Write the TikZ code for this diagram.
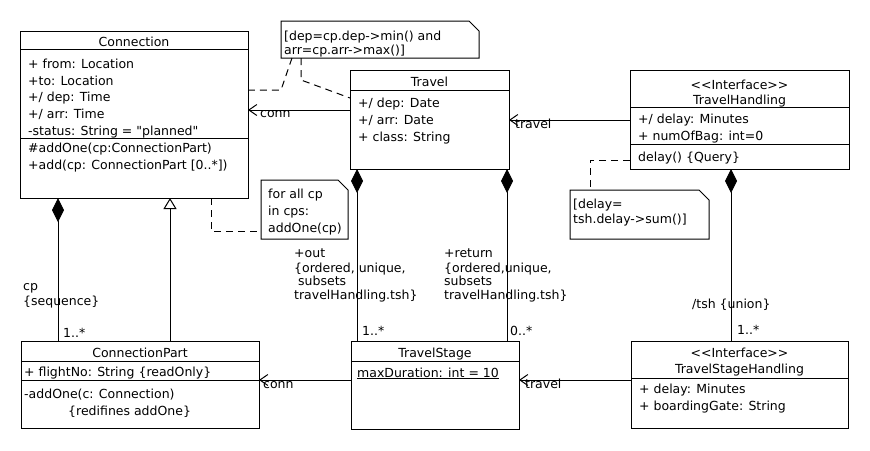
\documentclass[tikz,border=0pt]{standalone}
\usepackage{fontspec}
\setmainfont{DejaVu Sans}
\usetikzlibrary{arrows.meta,calc}
\newcommand{\stereo}[1]{\textless\kern0pt\textless #1\textgreater\kern0pt\textgreater}
\begin{document}
\begin{tikzpicture}[x=1pt,y=-1pt,
  box/.style={draw, line width=1pt, anchor=north west, inner sep=0pt, outer sep=0pt},
  notebox/.style={inner sep=0pt, outer sep=0pt, anchor=north west},
  txt/.style={font=\fontsize{12.5}{15}\selectfont, inner sep=0pt, anchor=base west},
  ttl/.style={txt, anchor=base},
  nav/.style={line width=1pt, -{Straight Barb[length=8pt,width=11pt]}},
  comp/.style={line width=1pt, {Diamond[length=24pt,width=12pt]}-},
  gen/.style={line width=1pt, -{Triangle[open,length=11pt,width=13pt,fill=white]}},
  dsh/.style={line width=1pt, dash pattern=on 7pt off 5pt},
  sep/.style={line width=1pt}]
\fill[white] (0,0) rectangle (870,450);
\useasboundingbox (0,0) rectangle (870,450);

% ---------- class boxes ----------
\node[box, minimum width=228pt, minimum height=167pt] (conn) at (20,31) {};
\node[box, minimum width=159pt, minimum height=99pt] (trav) at (350,70) {};
\node[box, minimum width=219pt, minimum height=99pt] (th) at (630,70) {};
\node[box, minimum width=238pt, minimum height=87pt] (cpart) at (21,341) {};
\node[box, minimum width=168pt, minimum height=88pt] (ts) at (351,341) {};
\node[box, minimum width=217pt, minimum height=87pt] (tsh) at (631,341) {};

% dividers
\draw[sep] (conn.west |- 0,49) -- (conn.east |- 0,49);
\draw[sep] (conn.west |- 0,138) -- (conn.east |- 0,138);
\draw[sep] (trav.west |- 0,90) -- (trav.east |- 0,90);
\draw[sep] (th.west |- 0,107) -- (th.east |- 0,107);
\draw[sep] (th.west |- 0,144) -- (th.east |- 0,144);
\draw[sep] (cpart.west |- 0,361) -- (cpart.east |- 0,361);
\draw[sep] (cpart.west |- 0,380) -- (cpart.east |- 0,380);
\draw[sep] (ts.west |- 0,361) -- (ts.east |- 0,361);
\draw[sep] (tsh.west |- 0,378) -- (tsh.east |- 0,378);

% ---------- Connection text ----------
\node[ttl] (connT) at (134,46.5) {Connection};
\node[txt] (c1) at (28,68) {+ from: Location};
\node[txt] (c2) at (28,85) {+to: Location};
\node[txt] (c3) at (28,101.5) {+/ dep: Time};
\node[txt] (c4) at (28,118) {+/ arr: Time};
\node[txt] (c5) at (28,135) {-status: String = \textquotedbl planned\textquotedbl};
\node[txt] (c6) at (28,152.5) {\#addOne(cp:ConnectionPart)};
\node[txt] (c7) at (28,169.5) {+add(cp: ConnectionPart {[}0..*{]})};

% ---------- Travel text ----------
\node[ttl] (travT) at (429.5,86) {Travel};
\node[txt] (t1) at (358,107.5) {+/ dep: Date};
\node[txt] (t2) at (358,124.5) {+/ arr: Date};
\node[txt] (t3) at (358,141.5) {+ class: String};

% ---------- TravelHandling text ----------
\node[ttl] (thS) at (739.5,89) {\stereo{Interface}};
\node[ttl] (thT) at (739.5,104) {TravelHandling};
\node[txt] (h1) at (638,123.5) {+/ delay: Minutes};
\node[txt] (h2) at (638,140) {+ numOfBag: int=0};
\node[txt] (h3) at (638,161.5) {delay() \{Query\}};

% ---------- ConnectionPart text ----------
\node[ttl] (cpT) at (140,357) {ConnectionPart};
\node[txt] (p1) at (24,376.5) {+ flightNo: String \{readOnly\}};
\node[txt] (p2) at (24,398) {-addOne(c: Connection)};
\node[txt] (p3) at (68,415) {\{redifines addOne\}};

% ---------- TravelStage text ----------
\node[ttl] (tsT) at (435,357) {TravelStage};
\node[txt] (s1) at (357,377) {\underline{maxDuration: int = 10}};

% ---------- TravelStageHandling text ----------
\node[ttl] (tshS) at (739.5,357) {\stereo{Interface}};
\node[ttl] (tshT) at (739.5,373) {TravelStageHandling};
\node[txt] (g1) at (639,393) {+ delay: Minutes};
\node[txt] (g2) at (639,410) {+ boardingGate: String};

% ---------- notes ----------
\node[notebox, minimum width=198pt, minimum height=37pt] (n1) at (281,21) {};
\node[notebox, minimum width=139pt, minimum height=49pt] (n2) at (570,190) {};
\node[notebox, minimum width=87pt, minimum height=59pt] (n3) at (261,180) {};
\foreach \n in {n1,n2,n3}{
  \draw[line width=1pt] (\n.north west) -- ([xshift=-10pt]\n.north east) -- ([yshift=-10pt]\n.north east) -- (\n.south east) -- (\n.south west) -- cycle;
}
\node[txt] (n1a) at (284,40) {{[}dep=cp.dep-\textgreater min() and};
\node[txt] (n1b) at (284,54) {arr=cp.arr-\textgreater max(){]}};
\node[txt] (n2a) at (573,208) {{[}delay=};
\node[txt] (n2b) at (573,223) {tsh.delay-\textgreater sum(){]}};
\node[txt] (n3a) at (268,198) {for all cp};
\node[txt] (n3b) at (268,215) {in cps:};
\node[txt] (n3c) at (268,232) {addOne(cp)};

% ---------- connectors ----------
\draw[nav] (trav.west |- 0,110) -- (conn.east |- 0,110);
\node[txt] (lconn1) at (260,117.5) {conn};
\draw[nav] (th.west |- 0,120) -- (trav.east |- 0,120);
\node[txt] (ltrav1) at (515,128) {travel};
\draw[nav] (ts.west |- 0,380) -- (cpart.east |- 0,380);
\node[txt] (lconn2) at (263,388) {conn};
\draw[nav] (tsh.west |- 0,380) -- (ts.east |- 0,380);
\node[txt] (ltrav2) at (525,388) {travel};

\draw[dsh] (n1.south west -| 292,0) -- (281,90) -- (conn.east |- 0,90);
\draw[dsh] (n1.south west -| 301,0) -- (301,80) -- (trav.west |- 0,98);
\draw[dsh] (th.west |- 0,160) -- (590,160) -- (n2.north west -| 590,0);
\draw[dsh] (conn.south west -| 211,0) -- (211,231) -- (n3.west |- 0,231);

\draw[comp] (conn.south west -| 58,0) -- (cpart.north west -| 58,0);
\draw[gen] (cpart.north west -| 170,0) -- (conn.south west -| 170,0);
\draw[comp] (trav.south west -| 357,0) -- (ts.north west -| 357,0);
\draw[comp] (trav.south west -| 507,0) -- (ts.north west -| 507,0);
\draw[comp] (th.south west -| 731,0) -- (tsh.north west -| 731,0);

% ---------- association end labels ----------
\node[txt] (lcp1) at (23,290) {cp};
\node[txt] (lcp2) at (23,305) {\{sequence\}};
\node[txt] (mcp) at (63,337) {1..*};
\node[txt] (lo1) at (294,257) {+out};
\node[txt] (lo2) at (294,272) {\{ordered, unique,};
\node[txt] (lo3) at (294,285.5) {\ subsets};
\node[txt] (lo4) at (294,299) {travelHandling.tsh\}};
\node[txt] (lr1) at (444,257) {+return};
\node[txt] (lr2) at (444,272) {\{ordered,unique,};
\node[txt] (lr3) at (444,285.5) {subsets};
\node[txt] (lr4) at (444,299) {travelHandling.tsh\}};
\node[txt] (mo) at (362,335) {1..*};
\node[txt] (mr) at (510,335) {0..*};
\node[txt] (ltsh) at (692,308) {/tsh \{union\}};
\node[txt] (mtsh) at (737,334) {1..*};
\end{tikzpicture}
\end{document}
